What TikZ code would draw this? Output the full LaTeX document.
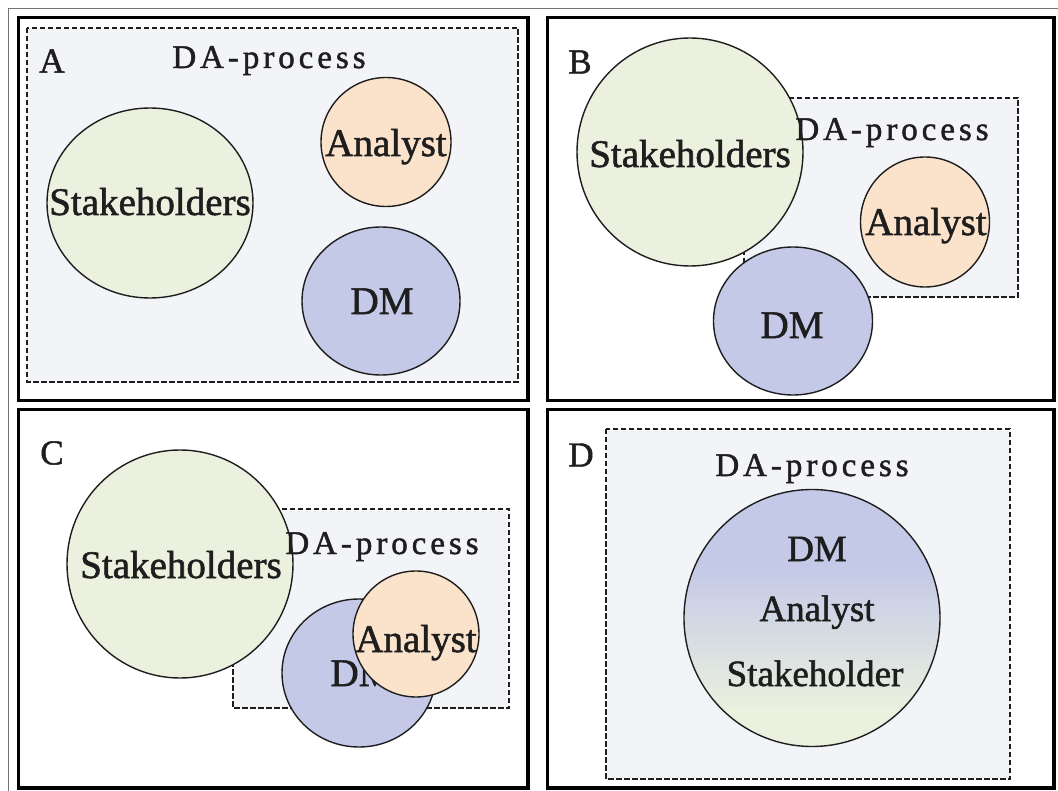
\documentclass[tikz,border=0pt]{standalone}
\usepackage{fontspec}
\setmainfont{Liberation Serif}[FakeBold=1.4]
\newfontfamily\procfont{Liberation Serif}[LetterSpace=12,FakeBold=1.4]
\usetikzlibrary{shapes.geometric}

\definecolor{shgreen}{HTML}{EBF1DE}
\definecolor{anpeach}{HTML}{FBE2CB}
\definecolor{dmblue}{HTML}{C4C9E7}
\definecolor{procfill}{HTML}{F3F4F7}
\definecolor{ink}{HTML}{1E1E1E}

% merged actor: lavender at the top fading into pale green at the bottom
\pgfdeclareverticalshading{mergedshade}{100bp}{color(0bp)=(shgreen); color(32bp)=(shgreen); color(60bp)=(dmblue); color(100bp)=(dmblue)}

\begin{document}
\begin{tikzpicture}[x=1pt,y=-1pt,
  panelframe/.style={line width=3.5pt, draw=black},
  procbox/.style={draw=ink, fill=procfill, line width=2.8pt, dash pattern=on 5.5pt off 2.5pt},
  actor/.style={ellipse, draw=ink, line width=1.4pt, inner sep=0pt},
  stk/.style={actor, fill=shgreen},
  ana/.style={actor, fill=anpeach},
  dmc/.style={actor, fill=dmblue},
  who/.style={font=\fontsize{39}{41}\selectfont, anchor=base, inner sep=0pt, text=ink},
  whod/.style={font=\fontsize{37}{39}\selectfont, anchor=base, inner sep=0pt, text=ink},
  proc/.style={font=\procfont\fontsize{33}{35}\selectfont, anchor=base, inner sep=0pt, text=ink},
  tag/.style={font=\fontsize{35}{37}\selectfont, inner sep=0pt, text=ink},
]
\fill[white] (0,0) rectangle (1058,791);
\useasboundingbox (0,0) rectangle (1058,791);

% thin outer border (top and left)
\draw[line width=1pt, black!55] (8.5,791) -- (8.5,8.5) -- (1058,8.5);

% ---------------- panel A ----------------
\draw[panelframe] (18.5,17.5) rectangle (528,400.5);
\draw[procbox] (27,28) rectangle (518,382);
\node[stk, minimum width=206pt, minimum height=190pt] (a-stk) at (150,203) {};
\node[ana, minimum width=130pt, minimum height=129pt] (a-ana) at (386,142) {};
\node[dmc, minimum width=158pt, minimum height=148pt] (a-dm) at (381,301) {};
\node[tag] (a-tag) at (52,61) {A};
\node[proc] (a-proc) at (269,68) {DA-process};
\node[who] (a-stk-t) at (150,215) {Stakeholders};
\node[who] (a-ana-t) at (386,156) {Analyst};
\node[who] (a-dm-t) at (382,314) {DM};

% ---------------- panel B ----------------
\draw[panelframe] (547.5,17.5) rectangle (1054,400.5);
\draw[procbox] (744,98) rectangle (1018,297);
\node[stk, minimum width=226pt, minimum height=228pt] (b-stk) at (690,152) {};
\node[dmc, minimum width=159pt, minimum height=148pt] (b-dm) at (793,321) {};
\node[ana, minimum width=129pt, minimum height=130pt] (b-ana) at (925,222) {};
\node[tag] (b-tag) at (580,62) {B};
\node[who] (b-stk-t) at (690,167) {Stakeholders};
\node[proc] (b-proc) at (892,140) {DA-process};
\node[who] (b-ana-t) at (926,235) {Analyst};
\node[who] (b-dm-t) at (792,338) {DM};

% ---------------- panel C ----------------
\draw[panelframe] (18.5,409.5) rectangle (528,788);
\draw[procbox] (233,509) rectangle (509,708);
\node[stk, minimum width=226pt, minimum height=228pt] (c-stk) at (180,564) {};
\node[dmc, minimum width=154pt, minimum height=148pt] (c-dm) at (359,673) {};
\node[who] (c-dm-t) at (362,686) {DM};
\node[ana, minimum width=126pt, minimum height=126pt] (c-ana) at (416,634) {};
\node[tag] (c-tag) at (52,453) {C};
\node[who] (c-stk-t) at (181,578) {Stakeholders};
\node[proc] (c-proc) at (382,554) {DA-process};
\node[who] (c-ana-t) at (416,652) {Analyst};

% ---------------- panel D ----------------
\draw[panelframe] (547.5,409.5) rectangle (1054,788);
\draw[procbox] (606,429) rectangle (1010,779);
\node[actor, shade, shading=mergedshade, minimum width=256pt, minimum height=257pt] (d-all) at (812,618) {};
\node[tag] (d-tag) at (581,455) {D};
\node[proc] (d-proc) at (812,476) {DA-process};
\node[whod] (d-dm-t) at (817,561) {DM};
\node[whod] (d-ana-t) at (817,621) {Analyst};
\node[whod] (d-stk-t) at (815,686) {Stakeholder};
\end{tikzpicture}
\end{document}
